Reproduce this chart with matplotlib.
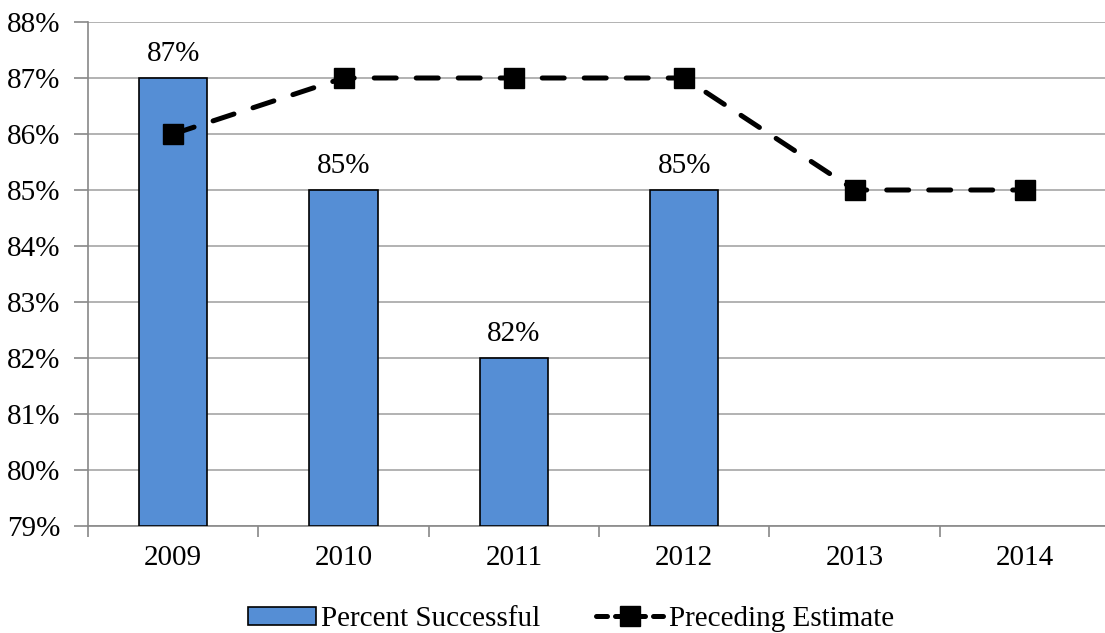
import matplotlib
matplotlib.use("Agg")
import matplotlib.pyplot as plt
from matplotlib.ticker import FixedLocator
from matplotlib.lines import Line2D

years = ["2009", "2010", "2011", "2012", "2013", "2014"]
percent_successful = [87, 85, 82, 85, None, None]
preceding_estimate = [86, 87, 87, 87, 85, 85]
y_ticks = list(range(79, 89))

plt.rcParams['font.family'] = ['Liberation Serif', 'DejaVu Serif']
FS = 21

fig = plt.figure(figsize=(11.05, 6.33), dpi=100)
ax = fig.add_axes([88/1105, 1-526/633, (1105-88)/1105, (526-22)/633])

x = list(range(len(years)))
bx = [i for i, v in zip(x, percent_successful) if v is not None]
bv = [v for v in percent_successful if v is not None]
bars = ax.bar(bx, [v - 79 for v in bv], bottom=79, width=0.4, color='#558ED5',
              edgecolor='black', linewidth=1.2, zorder=3, label='Percent Successful')
for xi, v in zip(bx, bv):
    ax.text(xi, v + 0.2, f"{v}%", ha='center', va='bottom', fontsize=FS, zorder=5)

line, = ax.plot(x, preceding_estimate, color='black', linewidth=3.6, dashes=(4.4, 4.0),
                dash_capstyle='round', marker='s', markersize=14, zorder=4,
                label='Preceding Estimate')

ax.set_ylim(79, 88)
ax.set_xlim(-0.5, 5.47)
ax.set_yticks(y_ticks)
ax.set_yticklabels([f"{t}%" for t in y_ticks], fontsize=FS)
ax.set_xticks(x)
ax.set_xticklabels(years, fontsize=FS)
ax.xaxis.set_minor_locator(FixedLocator([i - 0.5 for i in range(len(years))] + [5.5]))
ax.tick_params(axis='x', which='major', length=0, pad=14)
ax.tick_params(axis='x', which='minor', length=8, color='#888888', width=1.2)
ax.tick_params(axis='y', length=10, color='#888888', width=1.2, pad=10)
ax.grid(axis='y', color='#a6a6a6', linewidth=1.2, zorder=0)
for s in ['top', 'right']:
    ax.spines[s].set_visible(False)
for s in ['left', 'bottom']:
    ax.spines[s].set_color('#888888')
    ax.spines[s].set_linewidth(1.2)

line_proxy = Line2D([], [], color='black', linewidth=3.6, dashes=(2.2, 1.6),
                    dash_capstyle='round', marker='s', markersize=14,
                    label='Preceding Estimate')
leg = fig.legend(handles=[bars, line_proxy], loc='lower center', bbox_to_anchor=(0.517, -0.04),
                 ncol=2, frameon=False, fontsize=FS, handlelength=2.3, handleheight=0.6,
                 columnspacing=1.9, handletextpad=0.2)

fig.savefig("out.png", dpi=100)
